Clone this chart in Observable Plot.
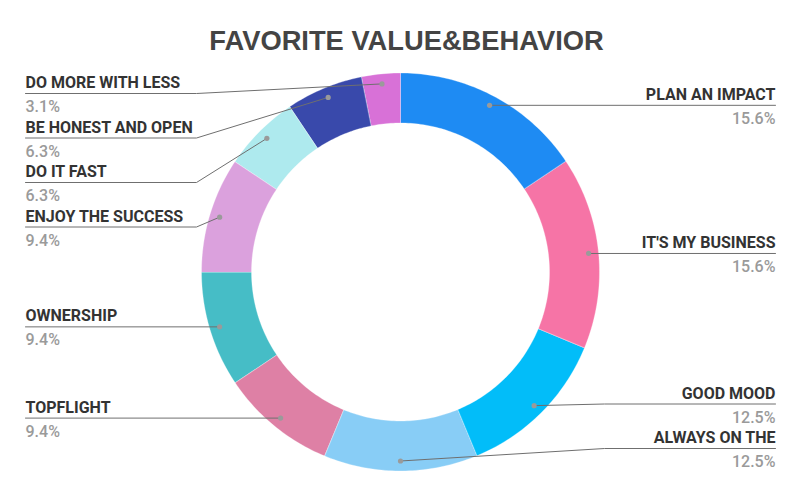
<!DOCTYPE html>
<html><head><meta charset="utf-8">
<script src="https://cdn.jsdelivr.net/npm/d3@7"></script>
<script src="https://cdn.jsdelivr.net/npm/@observablehq/plot@0.6"></script>
<style>body{margin:0;background:#fff;} svg{display:block}</style>
</head><body><div id="chart"></div>
<script>
const title = "FAVORITE VALUE&BEHAVIOR";
const categories = ["PLAN AN IMPACT","IT'S MY BUSINESS","GOOD MOOD","ALWAYS ON THE","TOPFLIGHT","OWNERSHIP","ENJOY THE SUCCESS","DO IT FAST","BE HONEST AND OPEN","DO MORE WITH LESS"];
const counts = [5,5,4,4,3,3,3,2,2,1];
const percentLabels = ["15.6%","15.6%","12.5%","12.5%","9.4%","9.4%","9.4%","6.3%","6.3%","3.1%"];
const colors = ["#1E8BF3","#F674A6","#02BDF9","#88CDF6","#DE80A5","#46BDC6","#DBA1DD","#AEEAEE","#3949AB","#D871D7"];

const W = 800, H = 495, cx = 400, cy = 271.5, rOuter = 199, rInner = 149, rDot = 189;
const total = d3.sum(counts);
let acc = 0;
const slices = categories.map((c, i) => {
  const a0 = acc / total * 2 * Math.PI; acc += counts[i];
  const a1 = acc / total * 2 * Math.PI;
  return {c, a0, a1, am: (a0 + a1) / 2, color: colors[i], pct: percentLabels[i]};
});
const pt = (a, r) => [cx + r * Math.sin(a), cy - r * Math.cos(a)];

const ring = [];
slices.forEach(s => {
  const n = Math.max(8, Math.ceil((s.a1 - s.a0) / (Math.PI / 180)));
  for (let k = 0; k <= n; k++) { const a = s.a0 + (s.a1 - s.a0) * k / n; const [x, y] = pt(a, rOuter); ring.push({c: s.c, x, y, color: s.color}); }
  for (let k = n; k >= 0; k--) { const a = s.a0 + (s.a1 - s.a0) * k / n; const [x, y] = pt(a, rInner); ring.push({c: s.c, x, y, color: s.color}); }
});

// label placement
const yMin = 93, yMax = 448, gap = 44.5;
slices.forEach(s => {
  const [x, y] = pt(s.am, rDot);
  s.dx = x; s.dy = y;
  s.side = Math.sin(s.am) > -1e-9 ? "right" : "left";
  s.ly = Math.min(yMax, Math.max(yMin, y));
});
for (const side of ["left", "right"]) {
  const g = slices.filter(s => s.side === side).sort((a, b) => a.dy - b.dy);
  for (let i = 1; i < g.length; i++) g[i].ly = Math.max(g[i].ly, g[i - 1].ly + gap);
  g[g.length - 1].ly = Math.min(g[g.length - 1].ly, yMax);
  for (let i = g.length - 2; i >= 0; i--) g[i].ly = Math.min(g[i].ly, g[i + 1].ly - gap);
}
const leaders = [];
slices.forEach(s => {
  const endX = s.side === "right" ? 775 : 25;
  leaders.push({c: s.c, x: s.dx, y: s.dy});
  if (Math.abs(s.ly - s.dy) > 0.5) leaders.push({c: s.c, x: s.side === "right" ? cx + rOuter + 5 : cx - rOuter - 5, y: s.ly});
  leaders.push({c: s.c, x: endX, y: s.ly});
  s.tx = endX;
});
const rightS = slices.filter(s => s.side === "right");
const leftS = slices.filter(s => s.side === "left");
const nameStyle = {x: "tx", y: d => d.ly - 5.5, text: "c", lineAnchor: "bottom", fontFamily: "Roboto", fontWeight: 700, fontSize: 16, fill: "#333"};
const pctStyle = {x: "tx", y: d => d.ly + 18.5, text: "pct", lineAnchor: "bottom", fontFamily: "Roboto", fontWeight: 500, fontSize: 16, fill: "#9a9a9a"};

const chart = Plot.plot({
  width: W, height: H, margin: 0,
  x: {domain: [0, W], range: [0, W], axis: null},
  y: {domain: [0, H], range: [0, H], axis: null},
  style: {background: "white", overflow: "visible"},
  marks: [
    Plot.line(ring, {x: "x", y: "y", z: "c", fill: "color", stroke: "white", strokeWidth: 0.5, strokeOpacity: 0.6, curve: "linear-closed"}),
    Plot.line(leaders, {x: "x", y: "y", z: "c", stroke: "#6f6f6f", strokeWidth: 1}),
    Plot.dot(slices, {x: "dx", y: "dy", r: 2.6, fill: "#9a9a9a", stroke: "none"}),
    Plot.text(rightS, {...nameStyle, textAnchor: "end"}),
    Plot.text(leftS, {...nameStyle, textAnchor: "start"}),
    Plot.text(rightS, {...pctStyle, textAnchor: "end"}),
    Plot.text(leftS, {...pctStyle, textAnchor: "start"}),
    Plot.text([title], {x: () => 406, y: () => 49.5, text: d => d, lineAnchor: "bottom", fontFamily: "Liberation Sans", fontWeight: 700, fontSize: 27.3, fill: "#444"})
  ]
});
document.getElementById("chart").appendChild(chart);
</script>
</body></html>
